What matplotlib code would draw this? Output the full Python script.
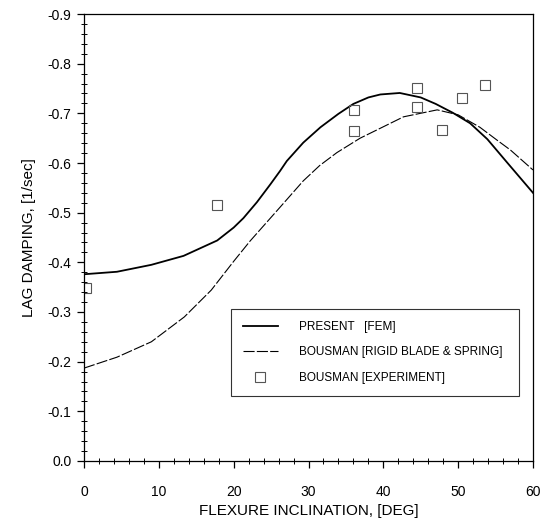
import numpy as np
import matplotlib
matplotlib.use('Agg')
import matplotlib.pyplot as plt
from matplotlib.ticker import MultipleLocator, FormatStrFormatter

plt.rcParams['font.family'] = ['Liberation Sans', 'DejaVu Sans']

# present (FEM) curve
fem_x = [0, 4.4, 9, 13.3, 17.8, 20, 21.3, 23.1, 24.9, 26.2, 27.1, 29.3, 31.6, 34, 36,
         38, 39.6, 42.2, 45, 47, 49.3, 51.6, 53.9, 56.6, 60]
fem_y = [-0.376, -0.381, -0.395, -0.413, -0.444, -0.470, -0.489, -0.521, -0.557, -0.584,
         -0.604, -0.641, -0.672, -0.699, -0.719, -0.732, -0.738, -0.741, -0.732, -0.719,
         -0.701, -0.680, -0.648, -0.600, -0.540]

# Bousman rigid blade & spring
rig_x = [0, 4.4, 9, 13.4, 17, 20, 22.2, 26.2, 29.3, 31.5, 33.8, 36.9, 39.6, 42.7, 47.2,
         50, 52.9, 55.2, 57, 60]
rig_y = [-0.187, -0.209, -0.240, -0.290, -0.344, -0.402, -0.443, -0.511, -0.564, -0.595,
         -0.621, -0.650, -0.670, -0.693, -0.707, -0.697, -0.672, -0.646, -0.626, -0.586]

# Bousman experiment
exp_x = [0.2, 17.8, 36.1, 36.1, 44.5, 44.5, 47.9, 50.5, 53.6]
exp_y = [-0.348, -0.515, -0.665, -0.707, -0.751, -0.713, -0.666, -0.731, -0.757]

fig = plt.figure(figsize=(5.4, 5.21), dpi=100)
ax = fig.add_axes([0.1556, 0.1152, 0.8314, 0.8579])

ax.plot(fem_x, fem_y, color='black', lw=1.3, label='PRESENT   [FEM]')
ax.plot(rig_x, rig_y, color='black', lw=0.8, ls=(0, (10, 2)),
        label='BOUSMAN [RIGID BLADE & SPRING]')
ax.plot(exp_x, exp_y, ls='none', marker='s', ms=7, mfc='none', mec='#555555',
        mew=0.8, label='BOUSMAN [EXPERIMENT]')

ax.set_xlim(0, 60)
ax.set_ylim(0, -0.9)
ax.xaxis.set_major_locator(MultipleLocator(10))
ax.xaxis.set_minor_locator(MultipleLocator(2))
ax.yaxis.set_major_locator(MultipleLocator(0.1))
ax.yaxis.set_minor_locator(MultipleLocator(0.02))
ax.yaxis.set_major_formatter(FormatStrFormatter('%.1f'))
ax.tick_params(which='major', direction='out', length=5, width=0.9, labelsize=10, pad=12)
ax.tick_params(axis='y', which='major', pad=4)
ax.tick_params(which='minor', direction='inout', length=4, width=0.7)
for s in ax.spines.values():
    s.set_linewidth(0.9)

ax.set_xlabel('FLEXURE INCLINATION, [DEG]', fontsize=11, labelpad=4)
ax.set_ylabel('LAG DAMPING, [1/sec]', fontsize=11, labelpad=8)

leg = ax.legend(loc='center', bbox_to_anchor=(0.314, 0.148, 0.668, 0.19), mode='expand',
                fontsize=8.5, frameon=True, fancybox=False, edgecolor='black',
                handlelength=3.0, borderpad=1.0, labelspacing=1.15, handletextpad=1.8)
leg.get_frame().set_linewidth(0.8)

fig.savefig('out.png', dpi=100)
